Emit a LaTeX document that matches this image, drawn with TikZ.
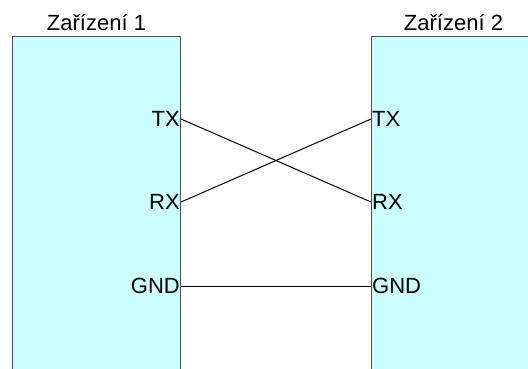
\documentclass[tikz,border=0pt]{standalone}
\usepackage{fontspec}
\setmainfont{Liberation Sans}
\usetikzlibrary{positioning}

\definecolor{boxfill}{HTML}{CCFFFF}
\tikzset{
  device/.style={draw=black!70, fill=boxfill, line width=1pt, inner sep=0pt,
    minimum width=164pt, minimum height=360pt, anchor=north west},
  title/.style={inner sep=0pt, font=\fontsize{22}{26}\selectfont},
  sig/.style={inner sep=0pt, font=\fontsize{22}{26}\selectfont},
  wire/.style={draw=black, line width=1pt}
}

\begin{document}
\begin{tikzpicture}[x=1pt,y=-1pt]
  \useasboundingbox (0,0) rectangle (528,368);
  \clip (0,0) rectangle (528,368);
  % the two devices
  \node[device, minimum width=168pt] (dev1) at (12,36) {};
  \node[device] (dev2) at (371,36) {};
  \node[title, above=5pt of dev1.north] (name1) {Zařízení 1};
  \node[title, above=5pt of dev2.north] (name2) {Zařízení 2};
  % pins
  \coordinate (tx1) at (dev1.east |- 0,119);
  \coordinate (rx1) at (dev1.east |- 0,202);
  \coordinate (gnd1) at (dev1.east |- 0,286);
  \coordinate (tx2) at (dev2.west |- 0,119);
  \coordinate (rx2) at (dev2.west |- 0,202);
  \coordinate (gnd2) at (dev2.west |- 0,286);
  \node[sig, left=1pt of tx1] (txl1) {TX};
  \node[sig, left=1pt of rx1] (rxl1) {RX};
  \node[sig, left=1pt of gnd1] (gndl1) {GND};
  \node[sig, right=1pt of tx2] (txl2) {TX};
  \node[sig, right=1pt of rx2] (rxl2) {RX};
  \node[sig, right=1pt of gnd2] (gndl2) {GND};
  % wiring
  \draw[wire] (tx1) -- (rx2);
  \draw[wire] (rx1) -- (tx2);
  \draw[wire] (gnd1) -- (gnd2);
\end{tikzpicture}
\end{document}
